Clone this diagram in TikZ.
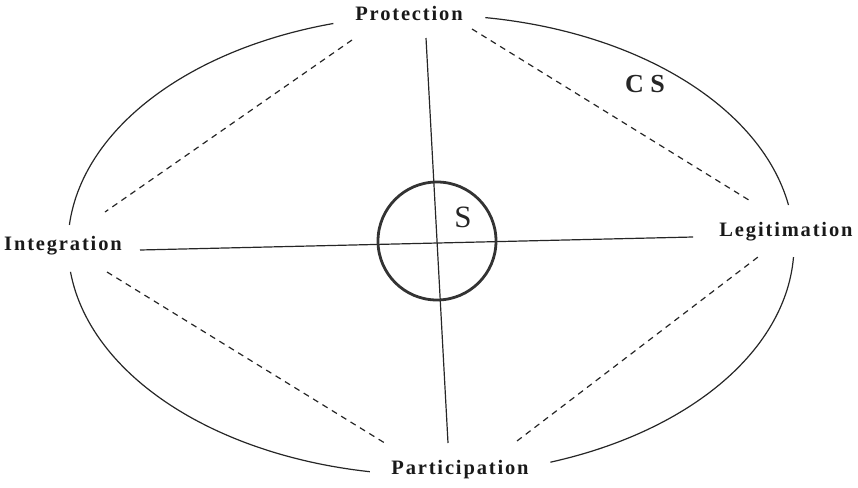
\documentclass[tikz,border=0pt]{standalone}
\usepackage{fontspec}
\setmainfont{Liberation Serif}
\newfontfamily\lblfont[LetterSpace=9]{Liberation Serif}
\begin{document}
\begin{tikzpicture}[x=1pt,y=-1pt,
  lbl/.style={font=\lblfont\bfseries\fontsize{20.5}{23}\selectfont, inner sep=0pt, text=black!90},
  thinline/.style={line width=1.2pt, black!85},
  dashline/.style={line width=1.2pt, black!85, dash pattern=on 6pt off 5pt},
  ell/.style={line width=1.2pt, black!85}]
\useasboundingbox (0,0) rectangle (858,487);
% labels
\node[lbl] (prot) at (409,13) {Protection};
\node[lbl] (integ) at (63,246) {Integration};
\node[lbl] (legit) at (786,232) {Legitimation};
\node[lbl] (part) at (460,470) {Participation};
\node[font=\bfseries\fontsize{26}{28}\selectfont, inner sep=0pt, text=black!85] (cs) at (645,84) {C S};
\node[font=\fontsize{31}{33}\selectfont, inner sep=0pt, text=black!85] (s) at (463,217) {S};
% outer ellipse arcs
\draw[ell] plot[domain=105.6:175, samples=60] ({431+363*cos(\x)}, {245-230*sin(\x)});
\draw[ell] plot[domain=10:81.4, samples=60] ({431+363*cos(\x)}, {245-230*sin(\x)});
\draw[ell] plot[domain=186.7:260.3, samples=60] ({431+363*cos(\x)}, {245-230*sin(\x)});
\draw[ell] plot[domain=289.2:357, samples=60] ({431+363*cos(\x)}, {245-230*sin(\x)});
% endpoints
\coordinate (tl1) at (352,40);  \coordinate (tl2) at (105,212);
\coordinate (tr1) at (472,29);  \coordinate (tr2) at (752,202);
\coordinate (bl1) at (107,272); \coordinate (bl2) at (388,445);
\coordinate (br1) at (517,441); \coordinate (br2) at (758,257);
\coordinate (vt) at (426,38);   \coordinate (vb) at (448,443);
\coordinate (hl) at (140,250);  \coordinate (hr) at (693,237);
% dashed diamond
\draw[dashline] (tl1) -- (tl2);
\draw[dashline] (tr1) -- (tr2);
\draw[dashline] (bl1) -- (bl2);
\draw[dashline] (br1) -- (br2);
% axes
\draw[thinline] (vt) -- (vb);
\draw[thinline] (hl) -- (hr);
% inner circle
\node[draw=black!80, line width=2.8pt, circle, minimum size=118pt, inner sep=0pt] (sc) at (437,241) {};
\end{tikzpicture}
\end{document}
